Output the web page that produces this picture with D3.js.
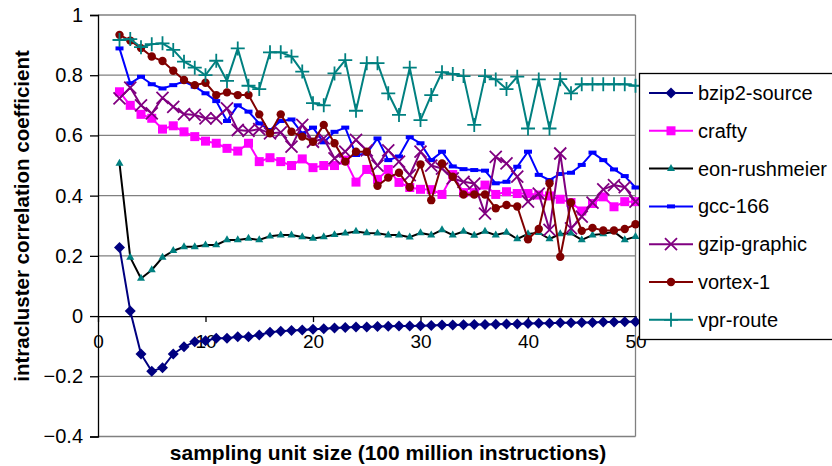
<!DOCTYPE html>
<html>
<head>
<meta charset="utf-8">
<script src="https://cdn.jsdelivr.net/npm/d3@7"></script>
<style>
  html, body { margin: 0; padding: 0; background: #fff; }
  svg { display: block; font-family: "Liberation Sans", Arial, sans-serif; }
</style>
</head>
<body>
<svg id="chart" width="832" height="466"></svg>
<script>
// Sampling unit sizes (x axis), 2 .. 50
const unitSizes = d3.range(2, 51);

const bzip2Source = [0.228, 0.017, -0.126, -0.183, -0.172, -0.126, -0.102, -0.085, -0.082, -0.074,
  -0.074, -0.069, -0.069, -0.063, -0.054, -0.050, -0.048, -0.046, -0.044, -0.042,
  -0.040, -0.038, -0.036, -0.036, -0.035, -0.034, -0.033, -0.033, -0.032, -0.031,
  -0.030, -0.030, -0.029, -0.028, -0.028, -0.027, -0.026, -0.026, -0.025, -0.024,
  -0.024, -0.022, -0.022, -0.021, -0.021, -0.020, -0.020, -0.019, -0.019];

const crafty = [0.745, 0.700, 0.670, 0.657, 0.621, 0.632, 0.612, 0.596, 0.581, 0.574,
  0.557, 0.548, 0.574, 0.513, 0.526, 0.513, 0.500, 0.522, 0.493, 0.500,
  0.500, 0.518, 0.445, 0.487, 0.454, 0.487, 0.444, 0.427, 0.421, 0.420,
  0.404, 0.470, 0.410, 0.410, 0.435, 0.404, 0.413, 0.407, 0.407, 0.402,
  0.399, 0.388, 0.377, 0.349, 0.374, 0.396, 0.363, 0.380, 0.380];

const eonRushmeier = [0.507, 0.195, 0.125, 0.153, 0.195, 0.217, 0.230, 0.230, 0.236, 0.236,
  0.253, 0.253, 0.258, 0.253, 0.265, 0.269, 0.269, 0.263, 0.258, 0.263,
  0.270, 0.275, 0.281, 0.276, 0.275, 0.269, 0.269, 0.262, 0.276, 0.269,
  0.286, 0.269, 0.281, 0.268, 0.281, 0.269, 0.278, 0.256, 0.273, 0.277,
  0.256, 0.273, 0.275, 0.253, 0.269, 0.273, 0.280, 0.253, 0.264];

const gcc166 = [0.889, 0.773, 0.795, 0.770, 0.756, 0.767, 0.779, 0.762, 0.740, 0.714,
  0.648, 0.700, 0.679, 0.640, 0.618, 0.648, 0.653, 0.607, 0.626, 0.577,
  0.612, 0.626, 0.535, 0.540, 0.590, 0.518, 0.530, 0.594, 0.574, 0.518,
  0.546, 0.497, 0.488, 0.485, 0.483, 0.441, 0.446, 0.496, 0.546, 0.469,
  0.452, 0.472, 0.476, 0.502, 0.543, 0.518, 0.487, 0.465, 0.427];

const gzipGraphic = [0.723, 0.759, 0.700, 0.673, 0.725, 0.695, 0.671, 0.668, 0.657, 0.657,
  0.690, 0.618, 0.615, 0.621, 0.607, 0.610, 0.563, 0.635, 0.579, 0.590,
  0.524, 0.546, 0.585, 0.550, 0.500, 0.550, 0.513, 0.468, 0.546, 0.500,
  0.490, 0.457, 0.446, 0.440, 0.340, 0.529, 0.507, 0.463, 0.380, 0.407,
  0.286, 0.540, 0.291, 0.330, 0.377, 0.421, 0.435, 0.428, 0.380];

const vortex1 = [0.934, 0.915, 0.890, 0.862, 0.847, 0.815, 0.784, 0.767, 0.775, 0.734,
  0.743, 0.734, 0.734, 0.670, 0.607, 0.670, 0.612, 0.596, 0.579, 0.635,
  0.574, 0.513, 0.546, 0.546, 0.433, 0.460, 0.476, 0.428, 0.504, 0.385,
  0.507, 0.463, 0.404, 0.404, 0.404, 0.358, 0.369, 0.364, 0.255, 0.289,
  0.441, 0.197, 0.377, 0.283, 0.293, 0.284, 0.284, 0.289, 0.305];

const vprRoute = [0.917, 0.920, 0.893, 0.903, 0.906, 0.884, 0.845, 0.825, 0.800, 0.848,
  0.781, 0.889, 0.765, 0.754, 0.876, 0.876, 0.862, 0.812, 0.707, 0.700,
  0.806, 0.850, 0.682, 0.840, 0.840, 0.740, 0.668, 0.825, 0.651, 0.734,
  0.810, 0.804, 0.797, 0.635, 0.797, 0.786, 0.754, 0.795, 0.623, 0.786,
  0.623, 0.787, 0.740, 0.770, 0.770, 0.770, 0.770, 0.770, 0.765];

const xTicks = [0, 10, 20, 30, 40, 50];
const yTicks = [-0.4, -0.2, 0, 0.2, 0.4, 0.6, 0.8, 1];

const seriesList = [
  { name: "bzip2-source", values: bzip2Source, line: "#000080", fill: "#000080", marker: "diamond" },
  { name: "crafty", values: crafty, line: "#FF00FF", fill: "#FF00FF", marker: "square" },
  { name: "eon-rushmeier", values: eonRushmeier, line: "#000000", fill: "#008080", marker: "triangle" },
  { name: "gcc-166", values: gcc166, line: "#0000FF", fill: "#0000FF", marker: "dash" },
  { name: "gzip-graphic", values: gzipGraphic, line: "#800080", fill: "#800080", marker: "cross" },
  { name: "vortex-1", values: vortex1, line: "#800000", fill: "#800000", marker: "circle" },
  { name: "vpr-route", values: vprRoute, line: "#008080", fill: "#008080", marker: "plus" }
];

const svg = d3.select("#chart");
const x = d3.scaleLinear().domain([0, 50]).range([98, 635.5]);
const y = d3.scaleLinear().domain([-0.4, 1]).range([436.5, 15]);

// plot frame and horizontal gridlines
const grid = svg.append("g");
grid.selectAll("line").data(yTicks.filter(d => d !== 0)).join("line")
  .attr("x1", x(0)).attr("x2", x(50))
  .attr("y1", d => y(d)).attr("y2", d => y(d))
  .attr("stroke", "#808080").attr("stroke-width", 1.3);
grid.append("line")
  .attr("x1", x(50)).attr("x2", x(50)).attr("y1", y(1)).attr("y2", y(-0.4))
  .attr("stroke", "#808080").attr("stroke-width", 1.3);

// y axis
const yAxis = svg.append("g").attr("transform", `translate(${x(0)},0)`)
  .call(d3.axisLeft(y).tickValues(yTicks).tickSize(8).tickPadding(7)
    .tickFormat(d => d3.format("")(+d.toFixed(1))));
yAxis.select(".domain").attr("stroke", "#000").attr("stroke-width", 1.3);
yAxis.selectAll(".tick line").attr("stroke", "#000").attr("stroke-width", 1.3);
yAxis.selectAll("text").attr("font-size", 20).attr("fill", "#000")
  .attr("font-family", "Liberation Sans, Arial, sans-serif");

// x axis sitting on y = 0
const xAxis = svg.append("g").attr("transform", `translate(0,${y(0)})`)
  .call(d3.axisBottom(x).tickValues(xTicks).tickSize(6).tickPadding(12).tickSizeOuter(0));
xAxis.select(".domain").attr("stroke", "#000").attr("stroke-width", 1.3);
xAxis.selectAll(".tick line").attr("stroke", "#000").attr("stroke-width", 1.3);
xAxis.selectAll("text").attr("font-size", 19).attr("fill", "#000")
  .attr("font-family", "Liberation Sans, Arial, sans-serif");

// marker drawing
function drawMarker(sel, s) {
  const c = s.fill;
  switch (s.marker) {
    case "diamond":
      sel.append("path").attr("d", "M0,-5.5L5.5,0L0,5.5L-5.5,0Z").attr("fill", c);
      break;
    case "square":
      sel.append("rect").attr("x", -4.5).attr("y", -4.5).attr("width", 9).attr("height", 9).attr("fill", c);
      break;
    case "triangle":
      sel.append("path").attr("d", d3.symbol(d3.symbolTriangle, 28)()).attr("fill", c);
      break;
    case "dash":
      sel.append("rect").attr("x", -4).attr("y", -2).attr("width", 8).attr("height", 4).attr("fill", c);
      break;
    case "cross":
      sel.append("path").attr("d", "M-6,-6L6,6M-6,6L6,-6").attr("stroke", c).attr("stroke-width", 1.8).attr("fill", "none");
      break;
    case "circle":
      sel.append("circle").attr("r", 4.2).attr("fill", c);
      break;
    case "plus":
      sel.append("path").attr("d", "M-7,0L7,0M0,-7L0,7").attr("stroke", c).attr("stroke-width", 1.8).attr("fill", "none");
      break;
  }
}

const lineGen = d3.line().x(d => x(d[0])).y(d => y(d[1]));
const plot = svg.append("g");
seriesList.forEach(s => {
  const pts = unitSizes.map((u, i) => [u, s.values[i]]);
  const g = plot.append("g");
  g.append("path").attr("d", lineGen(pts)).attr("fill", "none")
    .attr("stroke", s.line).attr("stroke-width", 2).attr("stroke-linejoin", "round");
  g.selectAll("g.m").data(pts).join("g").attr("class", "m")
    .attr("transform", d => `translate(${x(d[0])},${y(d[1])})`)
    .each(function () { drawMarker(d3.select(this), s); });
});

// legend
const legend = svg.append("g");
legend.append("rect").attr("x", 639.5).attr("y", 73.5).attr("width", 200).attr("height", 266)
  .attr("fill", "#fff").attr("stroke", "#000").attr("stroke-width", 1.3);
seriesList.forEach((s, i) => {
  const ly = 93 + i * 37.8;
  const g = legend.append("g");
  g.append("line").attr("x1", 649).attr("x2", 693).attr("y1", ly).attr("y2", ly)
    .attr("stroke", s.line).attr("stroke-width", 2);
  const m = g.append("g").attr("transform", `translate(671,${ly})`);
  drawMarker(m, s);
  g.append("text").attr("x", 698).attr("y", ly).attr("dy", "0.35em")
    .attr("font-size", 20).attr("fill", "#000").text(s.name);
});

// axis titles
svg.append("text").attr("x", 388).attr("y", 460).attr("text-anchor", "middle")
  .attr("font-size", 21).attr("font-weight", "bold").text("sampling unit size (100 million instructions)");
svg.append("text").attr("transform", "translate(29,216) rotate(-90)").attr("text-anchor", "middle")
  .attr("font-size", 20.5).attr("font-weight", "bold").text("intracluster correlation coefficient");
</script>
</body>
</html>
